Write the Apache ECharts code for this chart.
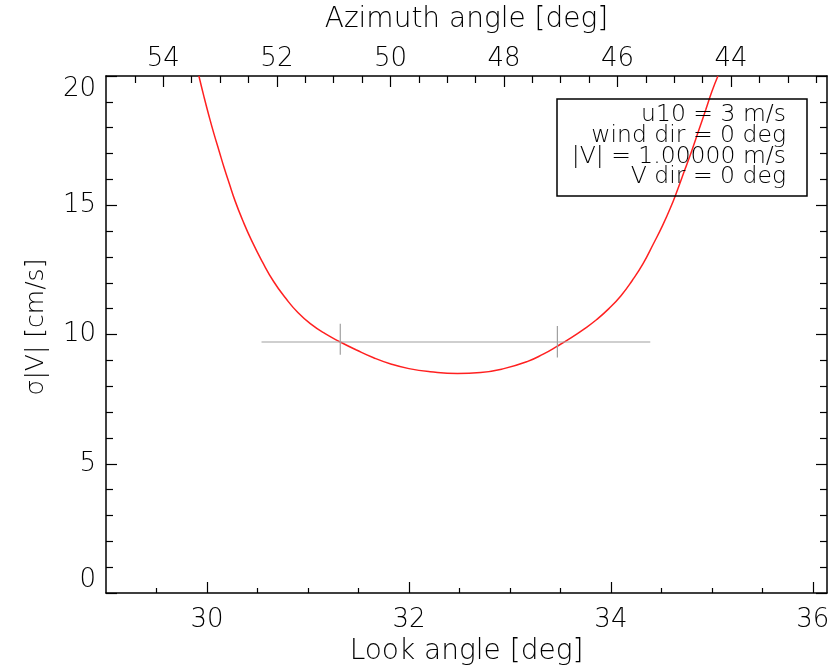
<!DOCTYPE html>
<html lang="en">
<head>
    <meta charset="UTF-8">
    <title>sigma V vs look angle</title>
    <style>
        html, body { margin: 0; padding: 0; background: #fff; }
    </style>
</head>
<body>
    <div id="chart" style="width: 831px;height:665px;"></div>
    <script src="https://cdn.jsdelivr.net/npm/echarts@6/dist/echarts.min.js"></script>
    <script type="text/javascript">
        // curve
        var curveLook = [29.92, 29.97, 30.02, 30.07, 30.12, 30.17, 30.22, 30.28, 30.35, 30.44,
            30.55, 30.66, 30.78, 30.90, 31.03, 31.17, 31.32, 31.48, 31.65, 31.82,
            32.00, 32.21, 32.48, 32.71, 32.94, 33.17, 33.33, 33.47, 33.60, 33.73,
            33.86, 33.98, 34.10, 34.21, 34.32, 34.42, 34.51, 34.59, 34.66, 34.73,
            34.80, 34.87, 34.94, 35.00, 35.06];
        var curveSigma = [20.0, 19.2, 18.45, 17.75, 17.1, 16.45, 15.85, 15.15, 14.45, 13.65,
            12.8, 12.05, 11.4, 10.85, 10.4, 10.03, 9.71, 9.4, 9.1, 8.86,
            8.68, 8.56, 8.49, 8.53, 8.68, 8.95, 9.24, 9.55, 9.86, 10.2,
            10.58, 11.0, 11.5, 12.08, 12.75, 13.5, 14.2, 14.9, 15.6, 16.35,
            17.1, 17.9, 18.7, 19.4, 20.0];

        // gray reference line and its two marks
        var refLook = [30.54, 34.39];
        var refSigma = 9.71;
        var markLook = [31.32, 33.47];
        var markLow = [9.22, 9.11];
        var markHigh = [10.42, 10.33];

        // axes
        var lookRange = [29, 36.14];
        var lookTicks = [30, 32, 34, 36];
        var lookMinor = [29.5, 30.5, 31, 31.5, 32.5, 33, 33.5, 34.5, 35, 35.5];
        var azRange = [42.31, 55.01];
        var azTicks = [44, 46, 48, 50, 52, 54];
        var azMinor = [42.5, 43, 43.5, 44.5, 45, 45.5, 46.5, 47, 47.5, 48.5, 49, 49.5,
            50.5, 51, 51.5, 52.5, 53, 53.5, 54.5];
        var sigmaRange = [0, 20];

        var legendLines = ['u10 = 3 m/s', 'wind dir = 0 deg', '|V| = 1.00000 m/s', 'V dir = 0 deg'];

        var font = 'DejaVu Sans';
        var txt = { color: '#000', fontFamily: font, fontWeight: 200, fontSize: 26 };
        var title = { color: '#000', fontFamily: font, fontWeight: 200, fontSize: 28 };
        var axLine = { show: true, lineStyle: { color: '#000', width: 1.5 } };
        var tickStyle = { color: '#000', width: 1.2 };

        var curveData = curveLook.map(function (x, i) { return [x, curveSigma[i]]; });

        var myChart = echarts.init(document.getElementById('chart'));
        var option = {
            animation: false,
            backgroundColor: '#fff',
            grid: { left: 106, right: 4, top: 76, bottom: 72, containLabel: false, outerBoundsMode: 'none' },
            xAxis: [
                {   // look angle, major
                    type: 'value', position: 'bottom',
                    min: lookRange[0], max: lookRange[1],
                    name: 'Look angle [deg]', nameLocation: 'middle', nameGap: 38,
                    nameTextStyle: title,
                    axisLine: axLine,
                    axisTick: { show: true, inside: true, length: 11, customValues: lookTicks, lineStyle: tickStyle },
                    axisLabel: Object.assign({ margin: 14, customValues: lookTicks }, txt),
                    splitLine: { show: false }
                },
                {   // look angle, minor
                    type: 'value', position: 'bottom',
                    min: lookRange[0], max: lookRange[1],
                    axisLine: { show: false },
                    axisTick: { show: true, inside: true, length: 5, customValues: lookMinor, lineStyle: tickStyle },
                    axisLabel: { show: false },
                    splitLine: { show: false }
                },
                {   // azimuth, major
                    type: 'value', position: 'top', inverse: true,
                    min: azRange[0], max: azRange[1],
                    name: 'Azimuth angle [deg]', nameLocation: 'middle', nameGap: 42,
                    nameTextStyle: title,
                    axisLine: axLine,
                    axisTick: { show: true, inside: true, length: 11, customValues: azTicks, lineStyle: tickStyle },
                    axisLabel: Object.assign({ margin: 4, customValues: azTicks }, txt),
                    splitLine: { show: false }
                },
                {   // azimuth, minor
                    type: 'value', position: 'top', inverse: true,
                    min: azRange[0], max: azRange[1],
                    axisLine: { show: false },
                    axisTick: { show: true, inside: true, length: 7, customValues: azMinor, lineStyle: tickStyle },
                    axisLabel: { show: false },
                    splitLine: { show: false }
                }
            ],
            yAxis: [
                {
                    type: 'value', position: 'left',
                    min: sigmaRange[0], max: sigmaRange[1], interval: 5,
                    name: 'σ|V| [cm/s]', nameLocation: 'middle', nameGap: 57,
                    nameTextStyle: Object.assign({ padding: [0, 0, 0, 15] }, title, { fontSize: 25 }),
                    axisLine: axLine,
                    axisTick: { show: true, inside: true, length: 11, lineStyle: tickStyle },
                    minorTick: { show: true, splitNumber: 5, length: 7, lineStyle: tickStyle },
                    axisLabel: Object.assign({ margin: 10, verticalAlignMinLabel: 'bottom', verticalAlignMaxLabel: 'top' }, txt),
                    splitLine: { show: false }
                },
                {
                    type: 'value', position: 'right',
                    min: sigmaRange[0], max: sigmaRange[1], interval: 5,
                    axisLine: axLine,
                    axisTick: { show: true, inside: true, length: 11, lineStyle: tickStyle },
                    minorTick: { show: true, splitNumber: 5, length: 7, lineStyle: tickStyle },
                    axisLabel: { show: false },
                    splitLine: { show: false }
                }
            ],
            graphic: [
                {
                    type: 'rect', shape: { x: 557, y: 99, width: 250, height: 97 },
                    style: { fill: 'none', stroke: '#000', lineWidth: 1.5 }, z: 100
                }
            ].concat(legendLines.map(function (s, i) {
                return {
                    type: 'text', x: 786, y: 115 + i * 20.7, z: 100,
                    style: { text: s, fill: '#000', font: '200 23.5px "' + font + '"', align: 'right', verticalAlign: 'middle' }
                };
            })),
            series: [
                {
                    type: 'line', xAxisIndex: 0, yAxisIndex: 0,
                    data: curveData, showSymbol: false, smooth: 0.5,
                    lineStyle: { color: '#ff2020', width: 1.5 }, silent: true
                },
                {
                    type: 'line', xAxisIndex: 0, yAxisIndex: 0,
                    data: [[refLook[0], refSigma], [refLook[1], refSigma]],
                    showSymbol: false, lineStyle: { color: '#a0a0a0', width: 1.2 }, silent: true
                },
                {
                    type: 'line', xAxisIndex: 0, yAxisIndex: 0,
                    data: [[markLook[0], markLow[0]], [markLook[0], markHigh[0]]],
                    showSymbol: false, lineStyle: { color: '#a0a0a0', width: 1.2 }, silent: true
                },
                {
                    type: 'line', xAxisIndex: 0, yAxisIndex: 0,
                    data: [[markLook[1], markLow[1]], [markLook[1], markHigh[1]]],
                    showSymbol: false, lineStyle: { color: '#a0a0a0', width: 1.2 }, silent: true
                }
            ]
        };
        myChart.setOption(option);
    </script>
</body>
</html>
